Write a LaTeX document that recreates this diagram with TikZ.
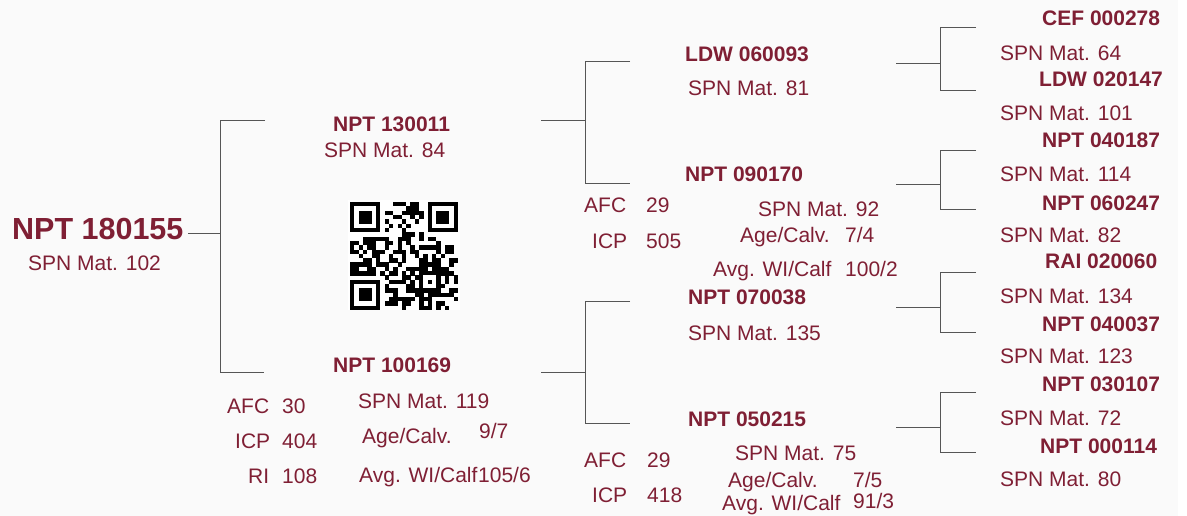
\documentclass[tikz,border=0pt]{standalone}
\usepackage{fontspec}
\setmainfont{Liberation Sans}
\definecolor{maroon}{RGB}{127,31,52}
\definecolor{treeline}{RGB}{85,85,85}
\definecolor{bgc}{RGB}{250,250,250}
\begin{document}
\begin{tikzpicture}[x=1pt,y=-1pt,
  nm/.style={anchor=base west,inner sep=0pt,text=maroon,font=\fontsize{21}{25}\selectfont\bfseries},
  inf/.style={anchor=base west,inner sep=0pt,text=maroon,font=\fontsize{21}{25}\selectfont},
  tl/.style={draw=treeline,line width=0.9pt}]
\useasboundingbox (0,0) rectangle (1187,516);
\fill[bgc] (0,0) rectangle (1187,516);
\fill[white] (1178,0) rectangle (1187,516);

% ---------- root
\node[anchor=base west,inner sep=0pt,text=maroon,font=\fontsize{30.5}{34}\selectfont\bfseries] (root) at (12,240) {NPT 180155};
\node[inf] (rootspn) at (28,270) {SPN Mat. 102};

% ---------- generation 1
\node[nm] (s1) at (333,132) {NPT 130011};
\node[inf] (s1spn) at (324,158) {SPN Mat. 84};
\node[nm] (d1) at (333,372) {NPT 100169};
\node[inf] (d1afc) at (227,413) {AFC};
\node[inf] (d1afcv) at (282,413) {30};
\node[inf] (d1icp) at (235,448) {ICP};
\node[inf] (d1icpv) at (282,448) {404};
\node[inf] (d1ri) at (248,483) {RI};
\node[inf] (d1riv) at (282,483) {108};
\node[inf] (d1spn) at (358,408) {SPN Mat. 119};
\node[inf] (d1age) at (362,443) {Age/Calv.};
\node[inf] (d1agev) at (479,438) {9/7};
\node[inf] (d1wi) at (359,482) {Avg. WI/Calf};
\node[inf] (d1wiv) at (478,482) {105/6};

% ---------- generation 2
\node[nm] (ss) at (685,62) {LDW 060093};
\node[inf] (ssspn) at (688,96) {SPN Mat. 81};
\node[nm] (sd) at (685,182) {NPT 090170};
\node[inf] (sdafc) at (584,213) {AFC};
\node[inf] (sdafcv) at (646,213) {29};
\node[inf] (sdicp) at (592,248) {ICP};
\node[inf] (sdicpv) at (646,248) {505};
\node[inf] (sdspn) at (758,217) {SPN Mat. 92};
\node[inf] (sdage) at (740,243) {Age/Calv.};
\node[inf] (sdagev) at (845,243) {7/4};
\node[inf] (sdwi) at (713,276) {Avg. WI/Calf};
\node[inf] (sdwiv) at (845,276) {100/2};

\node[nm] (ds) at (688,304) {NPT 070038};
\node[inf] (dsspn) at (688,340) {SPN Mat. 135};
\node[nm] (dd) at (688,426) {NPT 050215};
\node[inf] (ddafc) at (584,467) {AFC};
\node[inf] (ddafcv) at (647,467) {29};
\node[inf] (ddicp) at (592,502) {ICP};
\node[inf] (ddicpv) at (647,502) {418};
\node[inf] (ddspn) at (735,460) {SPN Mat. 75};
\node[inf] (ddage) at (728,487) {Age/Calv.};
\node[inf] (ddagev) at (853,487) {7/5};
\node[inf] (ddwi) at (722,510) {Avg. WI/Calf};
\node[inf] (ddwiv) at (853,508) {91/3};

% ---------- generation 3
\node[nm] (g1) at (1042,26) {CEF 000278};
\node[inf] (g1spn) at (1000,61) {SPN Mat. 64};
\node[nm] (g2) at (1039,87) {LDW 020147};
\node[inf] (g2spn) at (1000,121) {SPN Mat. 101};
\node[nm] (g3) at (1042,148) {NPT 040187};
\node[inf] (g3spn) at (1000,182) {SPN Mat. 114};
\node[nm] (g4) at (1042,211) {NPT 060247};
\node[inf] (g4spn) at (1000,242) {SPN Mat. 82};
\node[nm] (g5) at (1045,269) {RAI 020060};
\node[inf] (g5spn) at (1000,303) {SPN Mat. 134};
\node[nm] (g6) at (1042,331) {NPT 040037};
\node[inf] (g6spn) at (1000,363) {SPN Mat. 123};
\node[nm] (g7) at (1042,391) {NPT 030107};
\node[inf] (g7spn) at (1000,425) {SPN Mat. 72};
\node[nm] (g8) at (1040,453) {NPT 000114};
\node[inf] (g8spn) at (1000,486) {SPN Mat. 80};

% ---------- tree lines
\coordinate (r0) at (188,233);
\coordinate (r1) at (220,233);
\coordinate (r1t) at (220,120);
\coordinate (r1b) at (220,372);
\coordinate (r2t) at (265,120);
\coordinate (r2b) at (264,372);
\draw[tl] (r0) -- (r1);
\draw[tl] (r2t) -- (r1t) -- (r1b) -- (r2b);

\coordinate (sa0) at (541,120);
\coordinate (sa1) at (585,120);
\coordinate (sa1t) at (585,61);
\coordinate (sa1b) at (585,183);
\coordinate (sa2t) at (630,61);
\coordinate (sa2b) at (630,183);
\draw[tl] (sa0) -- (sa1);
\draw[tl] (sa2t) -- (sa1t) -- (sa1b) -- (sa2b);

\coordinate (da0) at (541,372);
\coordinate (da1) at (585,372);
\coordinate (da1t) at (585,301);
\coordinate (da1b) at (585,423);
\coordinate (da2t) at (630,301);
\coordinate (da2b) at (630,423);
\draw[tl] (da0) -- (da1);
\draw[tl] (da2t) -- (da1t) -- (da1b) -- (da2b);

\foreach \m/\t/\b [count=\k] in {63/27/90,184/150/209,307/272/332,427/392/452}{
  \coordinate (q\k a) at (896,\m);
  \coordinate (q\k b) at (940,\m);
  \coordinate (q\k t) at (940,\t);
  \coordinate (q\k u) at (940,\b);
  \coordinate (q\k e) at (976,\t);
  \coordinate (q\k f) at (976,\b);
  \draw[tl] (q\k a) -- (q\k b);
  \draw[tl] (q\k e) -- (q\k t) -- (q\k u) -- (q\k f);
}

% ---------- QR code
\def\qm{4.32}
\fill[white] (348,200) rectangle (460,310);
\pgfmathsetseed{4711}
\foreach \i in {0,...,24}{
  \foreach \j in {0,...,24}{
    \pgfmathrandominteger{\qr}{0}{1}
    \pgfmathtruncatemacro{\qskp}{((\i<8)&&(\j<8))||((\i>16)&&(\j<8))||((\i<8)&&(\j>16))||((\i>15)&&(\i<21)&&(\j>15)&&(\j<21)) ? 1 : 0}
    \ifnum\qskp=0
      \ifnum\qr=1
        \fill[black] ({350+\i*\qm},{202+\j*\qm}) rectangle +(4.4,4.4);
      \fi
    \fi
  }
}
\foreach \ox/\oy in {0/0,18/0,0/18}{
  \fill[black] ({350+\ox*\qm},{202+\oy*\qm}) rectangle +({7*\qm},{7*\qm});
  \fill[white] ({350+(\ox+1)*\qm},{202+(\oy+1)*\qm}) rectangle +({5*\qm},{5*\qm});
  \fill[black] ({350+(\ox+2)*\qm},{202+(\oy+2)*\qm}) rectangle +({3*\qm},{3*\qm});
}
\fill[black] ({350+16*\qm},{202+16*\qm}) rectangle +({5*\qm},{5*\qm});
\fill[white] ({350+17*\qm},{202+17*\qm}) rectangle +({3*\qm},{3*\qm});
\fill[black] ({350+18*\qm},{202+18*\qm}) rectangle +({\qm},{\qm});
\end{tikzpicture}
\end{document}
